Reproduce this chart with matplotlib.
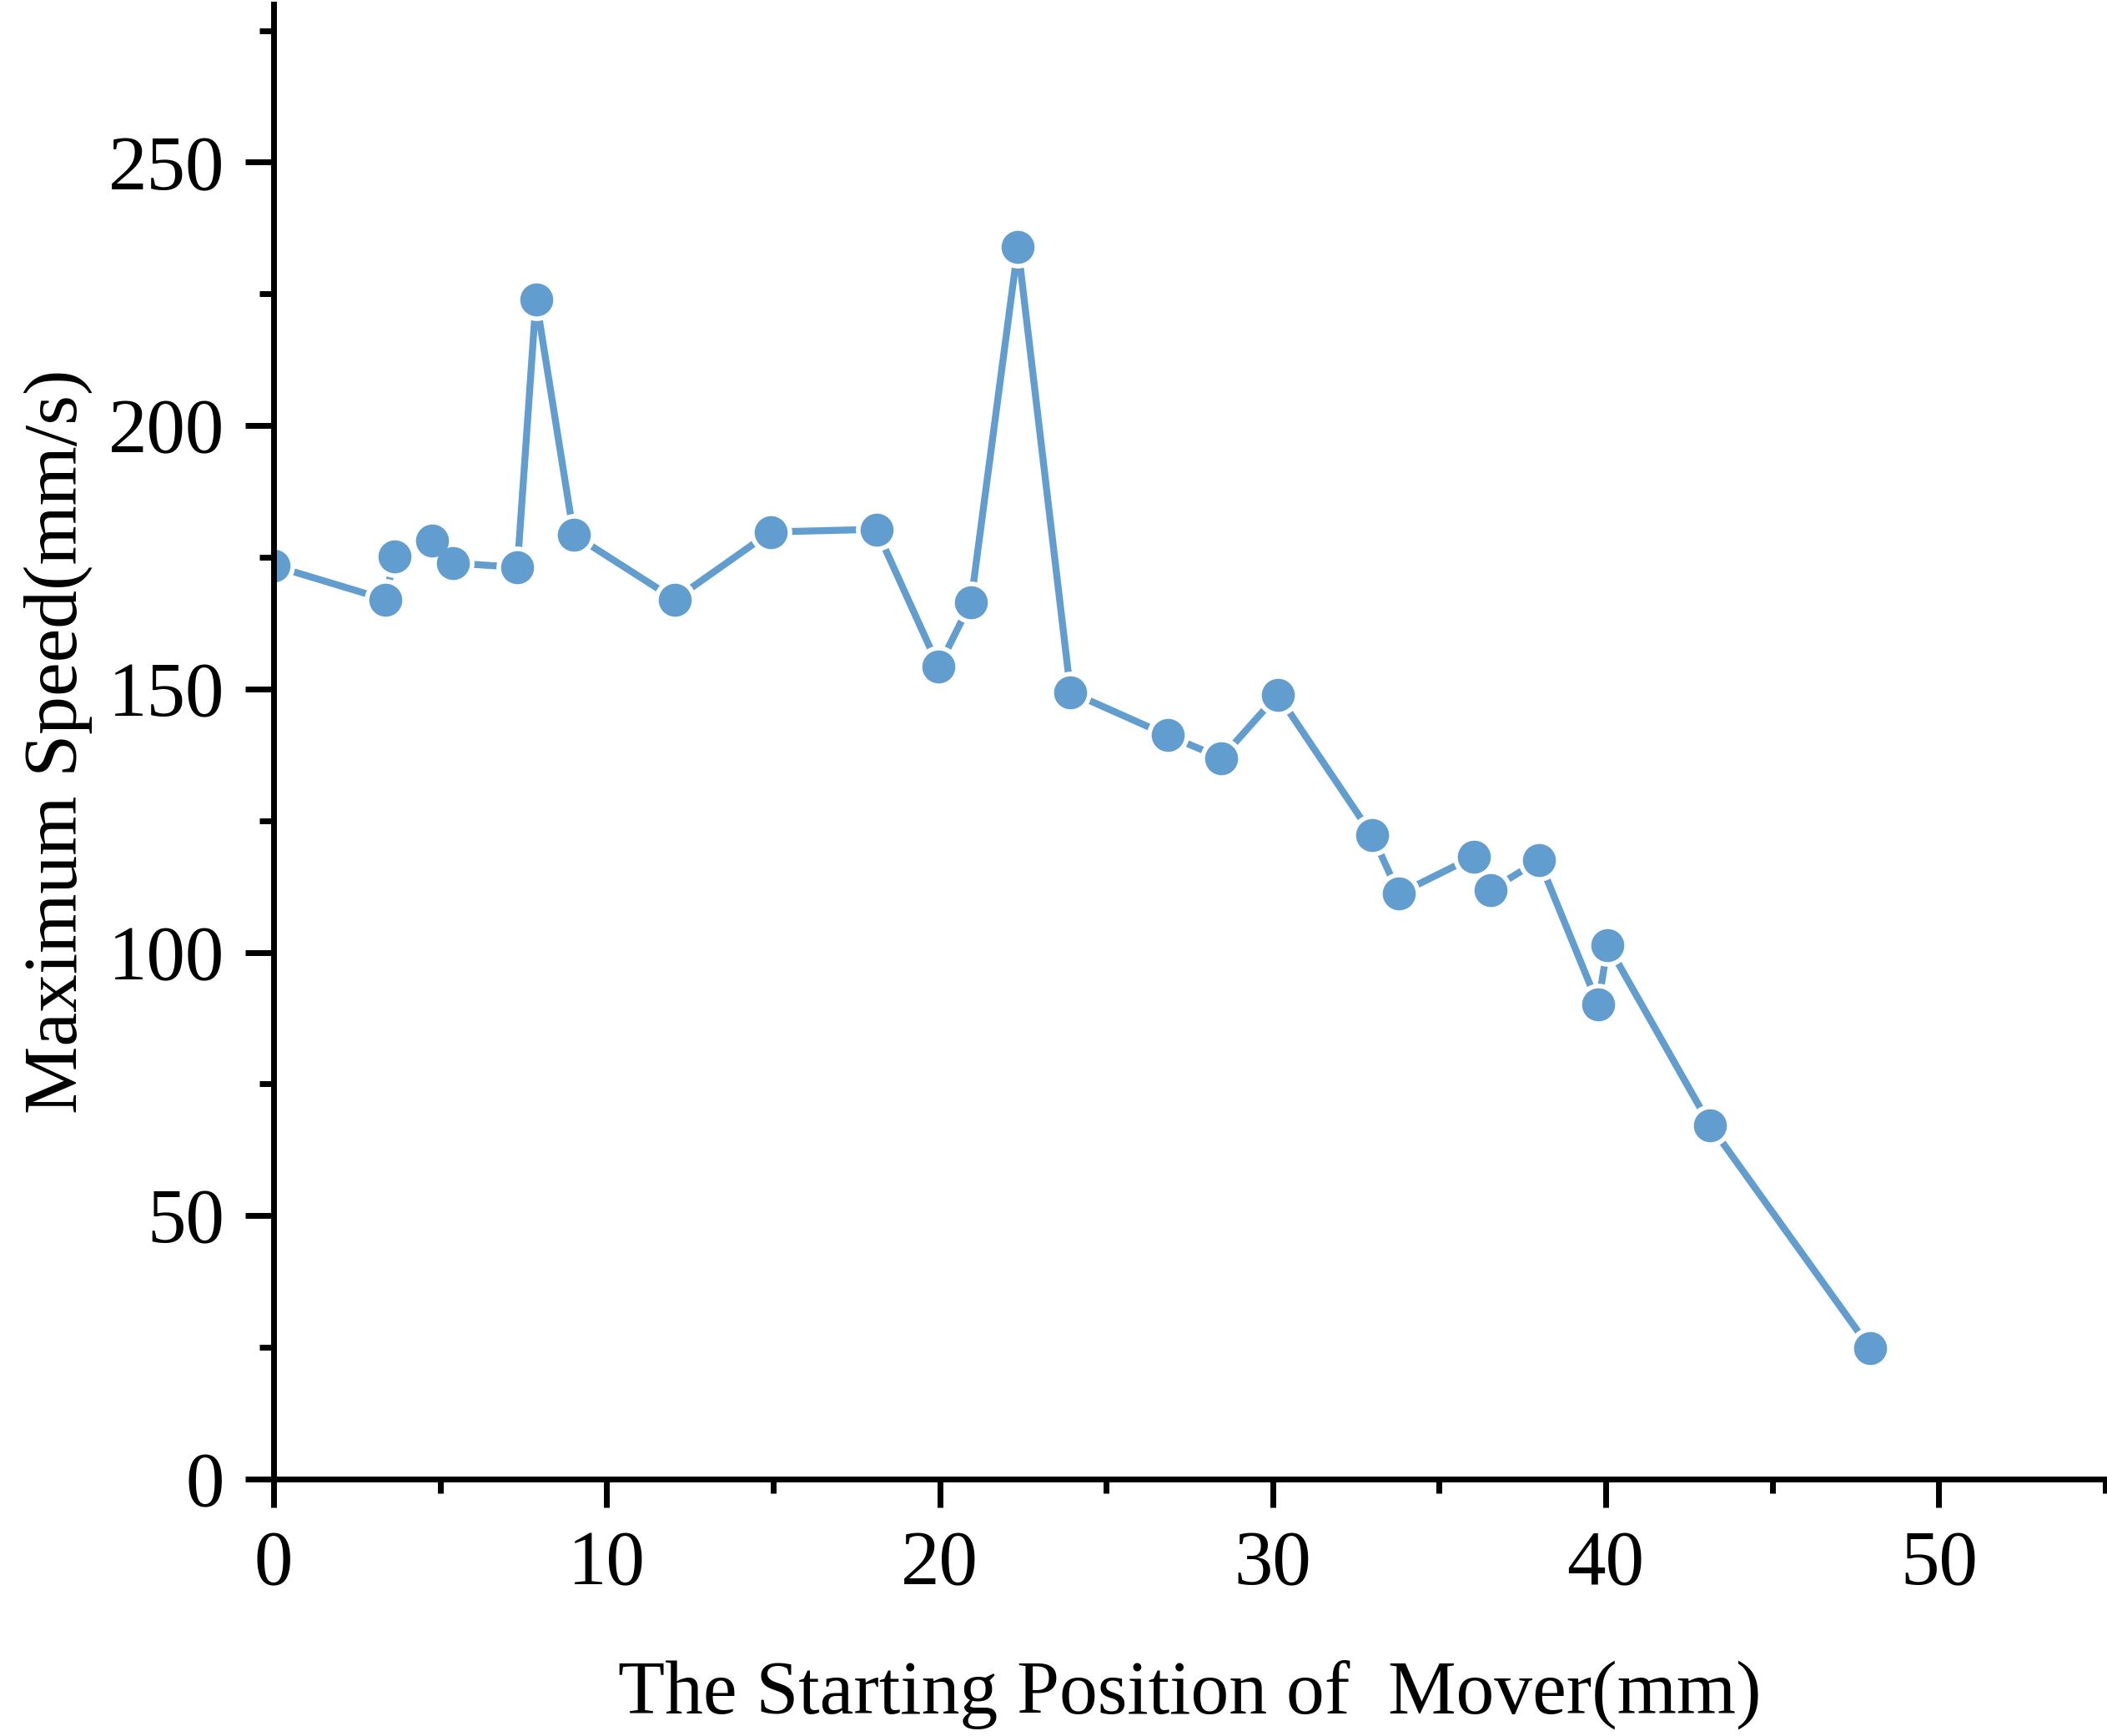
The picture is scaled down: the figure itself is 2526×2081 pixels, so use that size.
import matplotlib
matplotlib.use("Agg")
import matplotlib.pyplot as plt
from matplotlib.ticker import MultipleLocator

plt.rcParams['font.family'] = ['Liberation Serif', 'DejaVu Serif']

# starting position (mm) and maximum speed (mm/s)
position = [0.0, 3.35, 3.64, 4.77, 5.38, 7.32, 7.88, 9.01, 12.05, 14.92,
            18.1, 19.97, 20.94, 22.35, 23.93, 26.84, 28.46, 30.15, 32.98,
            33.79, 36.05, 36.54, 38.0, 39.77, 40.06, 43.13, 47.94]
max_speed = [173.4, 167.0, 175.2, 178.2, 173.9, 173.1, 224.0, 179.3, 167.0,
             179.8, 180.3, 154.2, 166.5, 233.9, 149.4, 141.2, 136.9, 148.9,
             122.3, 111.1, 118.2, 111.8, 117.5, 90.1, 101.4, 67.2, 24.8]

blue = '#629dcf'

fig = plt.figure(figsize=(25.26, 20.81), dpi=100)
ax = fig.add_axes([328/2526, 1 - 1773/2081, (2524 - 328)/2526, (1773 - 5)/2081])

# line, then white discs to leave a gap round each symbol, then the symbols
ax.plot(position, max_speed, color=blue, lw=6, solid_capstyle='round', zorder=2)
ax.plot(position, max_speed, ls='none', marker='o', ms=36.5,
        mfc='white', mec='none', zorder=3)
ax.plot(position, max_speed, ls='none', marker='o', ms=28.5,
        mfc=blue, mec='none', zorder=4)

ax.set_xlim(0, 55)
ax.set_ylim(0, 280)
ax.xaxis.set_major_locator(MultipleLocator(10))
ax.xaxis.set_minor_locator(MultipleLocator(5))
ax.yaxis.set_major_locator(MultipleLocator(50))
ax.yaxis.set_minor_locator(MultipleLocator(25))

ax.spines['top'].set_visible(False)
ax.spines['right'].set_visible(False)
for s in ['left', 'bottom']:
    ax.spines[s].set_linewidth(5)
    ax.spines[s].set_zorder(6)

ax.tick_params(which='major', direction='out', length=24.5, width=5, labelsize=67)
ax.tick_params(which='minor', direction='out', length=12.5, width=5)
ax.tick_params(axis='x', which='major', pad=20)
ax.tick_params(axis='y', which='major', pad=18)

fig.text(1426/2526, 1 - 2031/2081, 'The Starting Position of  Mover(mm)',
         ha='center', va='center', fontsize=66)
fig.text(70/2526, 1 - 889/2081, 'Maximum Speed(mm/s)', rotation=90,
         ha='center', va='center', fontsize=66)

fig.savefig('out.png', dpi=100)
